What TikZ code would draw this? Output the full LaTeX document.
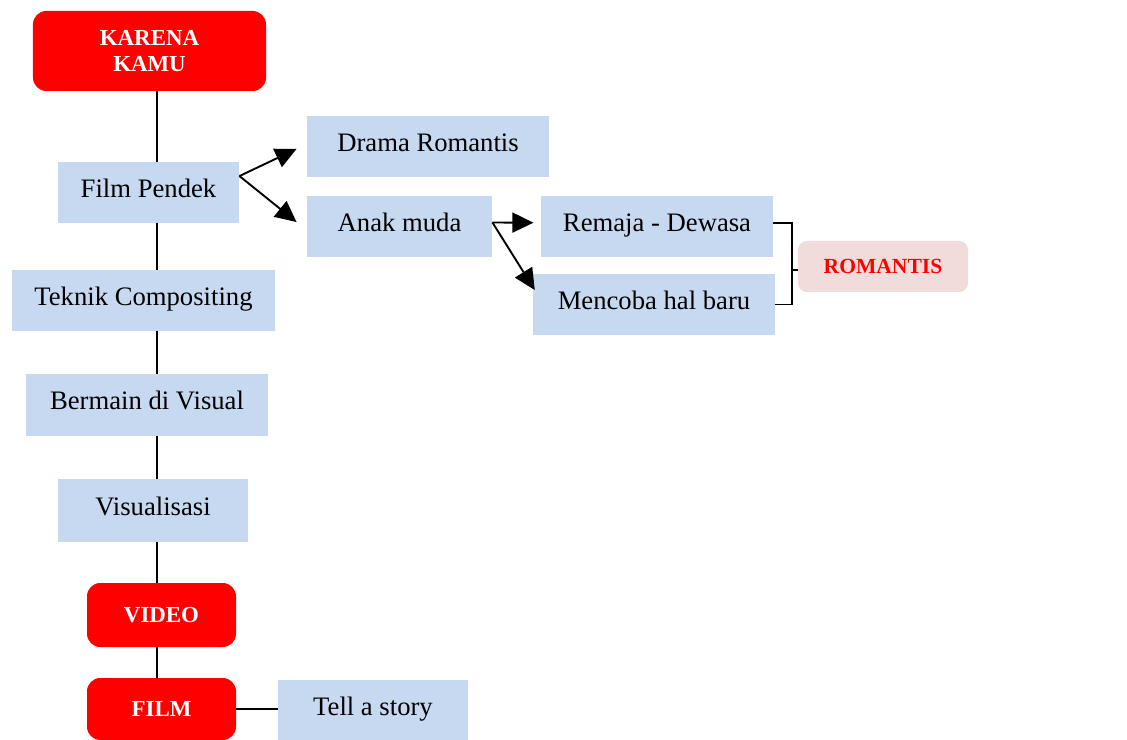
\documentclass[tikz,border=0pt]{standalone}
\usepackage{fontspec}
\setmainfont{Liberation Serif}
\usepackage{tikz}
\usetikzlibrary{shapes,arrows,arrows.meta,positioning,calc}

\definecolor{birumuda}{RGB}{198,217,241}
\definecolor{merahtua}{RGB}{255,0,0}
\definecolor{pinkmuda}{RGB}{242,220,219}

\begin{document}
\begin{tikzpicture}[
    x=0.45pt, y=-0.45pt,
    topik/.style={rectangle, fill=birumuda, inner sep=0pt, minimum width=2cm, minimum height=27.45pt, text height=0.8em, text depth=0.35em, font=\fontsize{12}{14}\selectfont},
    judul/.style={rectangle, rounded corners=6pt, fill=merahtua, inner sep=0pt, minimum width=67.05pt, minimum height=28.8pt, text=white, align=center, font=\fontsize{10.3}{11.7}\selectfont\bfseries},
    kategori/.style={rectangle, rounded corners=4pt, fill=pinkmuda, inner sep=0pt, minimum width=76.5pt, minimum height=22.95pt, text=merahtua, font=\fontsize{9.7}{11}\selectfont\bfseries},
    garis/.style={line width=0.85pt},
    arrow/.style={-{Triangle[length=9.5pt,width=9pt]}, line width=0.85pt}
]
\useasboundingbox (0,0) rectangle (1127,740);

% Main column
\node[judul, minimum width=104.85pt, minimum height=36pt] (karena) at (149.5,51) {KARENA\\KAMU};
\node[topik, minimum width=81.45pt] (pendek) at (148.5,192.5) {Film Pendek};
\node[topik, minimum width=118.35pt] (teknik) at (143.5,300.5) {Teknik Compositing};
\node[topik, minimum width=108.9pt, minimum height=27.9pt] (bermain) at (147,405) {Bermain di Visual};
\node[topik, minimum width=85.5pt, minimum height=28.35pt] (visual) at (153,510.5) {Visualisasi};
\node[judul] (video) at (161.5,615) {VIDEO};
\node[judul, minimum height=27.9pt] (film) at (161.5,709) {FILM};
\node[topik, minimum width=85.5pt, minimum height=27pt] (tell) at (373,710) {Tell a story};

% Branches
\node[topik, minimum width=108.9pt] (drama) at (428,146.5) {Drama Romantis};
\node[topik, minimum width=83.25pt] (anak) at (399.5,226.5) {Anak muda};
\node[topik, minimum width=104.4pt] (remaja) at (657,226.5) {Remaja - Dewasa};
\node[topik, minimum width=108.9pt] (mencoba) at (654,304.5) {Mencoba hal baru};
\node[kategori] (romantis) at (883,266.5) {ROMANTIS};

% Spine
\coordinate (spine) at (156.7,0);
\draw[garis] (karena.south -| spine) -- (pendek.north -| spine);
\draw[garis] (pendek.south -| spine) -- (teknik.north -| spine);
\draw[garis] (teknik.south -| spine) -- (bermain.north -| spine);
\draw[garis] (bermain.south -| spine) -- (visual.north -| spine);
\draw[garis] (visual.south -| spine) -- (video.north -| spine);
\draw[garis] (video.south -| spine) -- (film.north -| spine);
\draw[garis] (film.east) -- (tell.west |- film.east);

% Arrows
\draw[arrow] ([yshift=7.4pt]pendek.east) -- ([xshift=-4.5pt,yshift=-1.1pt]drama.west);
\draw[arrow] ([yshift=7.4pt]pendek.east) -- ([xshift=-4.5pt,yshift=2pt]anak.west);
\draw[arrow] ([yshift=1.8pt]anak.east) -- ([xshift=-3.2pt,yshift=1.7pt]remaja.west);
\draw[arrow] ([yshift=1.8pt]anak.east) -- ([xshift=1pt,yshift=6.5pt]mencoba.west);

% Bracket
\coordinate (brk) at (792,270);
\draw[garis] ([yshift=1.7pt]remaja.east) -| (brk) |- (mencoba.east);
\draw[garis] (brk) -- (romantis.west |- brk);

\end{tikzpicture}
\end{document}
